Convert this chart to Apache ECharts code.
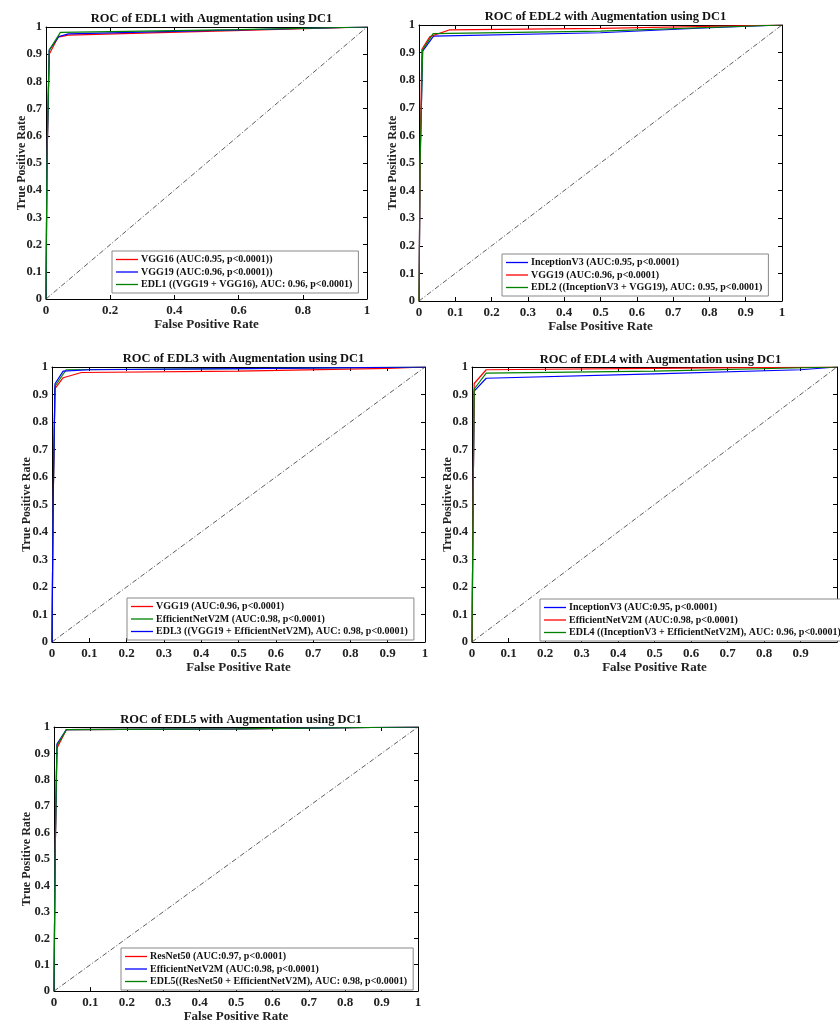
<!DOCTYPE html>
<html>
<head>
<meta charset="utf-8">
<script src="https://cdn.jsdelivr.net/npm/echarts@6/dist/echarts.min.js"></script>
<style>html,body{margin:0;padding:0;background:#fff;}#c{width:840px;height:1024px;}</style>
</head>
<body>
<div id="c"></div>
<script>
// ---------- DATA ----------
const titles = [
  'ROC of EDL1 with Augmentation using DC1',
  'ROC of EDL2 with Augmentation using DC1',
  'ROC of EDL3 with Augmentation using DC1',
  'ROC of EDL4 with Augmentation using DC1',
  'ROC of EDL5 with Augmentation using DC1'
];
const xIntervals = [0.2, 0.1, 0.1, 0.1, 0.1];
const yTickStep = 0.1;
const diagonal = [[0, 0], [1, 1]];

// Panel 1
const p1Names = ['VGG16 (AUC:0.95, p<0.0001))', 'VGG19 (AUC:0.96, p<0.0001))', 'EDL1 ((VGG19 + VGG16), AUC: 0.96, p<0.0001)'];
const p1VGG16 = [[0,0],[0.003,0.5],[0.01,0.90],[0.038,0.963],[0.069,0.97],[0.5,0.984],[1,1]];
const p1VGG19 = [[0,0],[0.003,0.5],[0.01,0.915],[0.04,0.965],[0.07,0.975],[0.5,0.987],[1,1]];
const p1EDL1  = [[0,0],[0.003,0.5],[0.01,0.915],[0.045,0.98],[0.1,0.981],[0.6,0.99],[1,1]];

// Panel 2
const p2Names = ['InceptionV3 (AUC:0.95, p<0.0001)', 'VGG19 (AUC:0.96, p<0.0001)', 'EDL2 ((InceptionV3 + VGG19), AUC: 0.95, p<0.0001)'];
const p2Inception = [[0,0],[0.003,0.5],[0.01,0.905],[0.04,0.96],[0.5,0.972],[0.8,0.99],[1,1]];
const p2VGG19     = [[0,0],[0.003,0.5],[0.008,0.912],[0.03,0.958],[0.083,0.982],[0.5,0.988],[1,1]];
const p2EDL2      = [[0,0],[0.003,0.5],[0.01,0.91],[0.039,0.969],[0.5,0.978],[1,1]];

// Panel 3
const p3Names = ['VGG19 (AUC:0.96, p<0.0001)', 'EfficientNetV2M (AUC:0.98, p<0.0001)', 'EDL3 ((VGG19 + EfficientNetV2M), AUC: 0.98, p<0.0001)'];
const p3VGG19     = [[0,0],[0.003,0.5],[0.008,0.921],[0.03,0.961],[0.079,0.98],[0.5,0.985],[0.9,0.995],[1,1]];
const p3Efficient = [[0,0],[0.003,0.5],[0.008,0.93],[0.038,0.99],[0.5,0.994],[1,1]];
const p3EDL3      = [[0,0],[0.003,0.5],[0.008,0.939],[0.03,0.985],[0.1,0.99],[0.6,0.995],[1,1]];

// Panel 4
const p4Names = ['InceptionV3 (AUC:0.95, p<0.0001)', 'EfficientNetV2M (AUC:0.98, p<0.0001)', 'EDL4 ((InceptionV3 + EfficientNetV2M), AUC: 0.96, p<0.0001)'];
const p4Inception = [[0,0],[0.003,0.5],[0.006,0.912],[0.039,0.959],[0.5,0.975],[0.9,0.99],[1,1]];
const p4Efficient = [[0,0],[0.003,0.5],[0.006,0.94],[0.039,0.99],[0.5,0.995],[1,1]];
const p4EDL4      = [[0,0],[0.003,0.5],[0.006,0.92],[0.039,0.978],[0.5,0.985],[1,1]];

// Panel 5
const p5Names = ['ResNet50 (AUC:0.97, p<0.0001)', 'EfficientNetV2M (AUC:0.98, p<0.0001)', 'EDL5((ResNet50 + EfficientNetV2M), AUC: 0.98, p<0.0001)'];
const p5ResNet    = [[0,0],[0.003,0.5],[0.008,0.92],[0.034,0.99],[0.5,0.993],[1,1]];
const p5Efficient = [[0,0],[0.003,0.5],[0.008,0.935],[0.034,0.99],[0.5,0.993],[1,1]];
const p5EDL5      = [[0,0],[0.003,0.5],[0.008,0.93],[0.034,0.99],[0.5,0.993],[1,1]];

// ---------- STYLE / LAYOUT ----------
const RED = '#ff0000', BLUE = '#0000ff', GREEN = '#008000';
const panels = [
  { grid: {left: 46, top: 27, width: 321, height: 272}, titleTop: 7, names: p1Names, data: [p1VGG16, p1VGG19, p1EDL1], colors: [RED, BLUE, GREEN], legend: {left: 112, top: 251}, xGap: 16, yGap: 18 },
  { grid: {left: 419, top: 25, width: 363, height: 276}, titleTop: 5, names: p2Names, data: [p2Inception, p2VGG19, p2EDL2], colors: [BLUE, RED, GREEN], legend: {left: 502, top: 254}, xGap: 16, yGap: 20 },
  { grid: {left: 52, top: 367, width: 373, height: 275}, titleTop: 347, names: p3Names, data: [p3VGG19, p3Efficient, p3EDL3], colors: [RED, GREEN, BLUE], legend: {left: 127, top: 598}, xGap: 16, yGap: 19 },
  { grid: {left: 472, top: 367, width: 367, height: 275}, titleTop: 348, names: p4Names, data: [p4Inception, p4Efficient, p4EDL4], colors: [BLUE, RED, GREEN], legend: {left: 540, top: 599}, xGap: 16, yGap: 18, hideLastX: true },
  { grid: {left: 54, top: 727, width: 364, height: 269}, titleTop: 708, names: p5Names, data: [p5ResNet, p5Efficient, p5EDL5], colors: [RED, BLUE, GREEN], legend: {left: 121, top: 948}, xGap: 16, yGap: 21 }
];

const FONT = 'Liberation Serif';
const option = {
  backgroundColor: '#fff',
  animation: false,
  title: [], grid: [], xAxis: [], yAxis: [], legend: [], series: []
};

const axisLine = { show: true, onZero: false, lineStyle: { color: '#000', width: 1 } };
const tickIn = { show: true, inside: true, length: 4, lineStyle: { color: '#000' } };

panels.forEach((p, i) => {
  const g = p.grid;
  option.grid.push({ left: g.left, top: g.top, width: g.width, height: g.height, containLabel: false });
  option.title.push({
    text: titles[i], left: g.left + g.width / 2, top: p.titleTop, textAlign: 'center',
    textStyle: { fontFamily: FONT, fontWeight: 'bold', fontSize: 12.5, color: '#111' }
  });
  const xi = option.xAxis.length;
  const yi = option.yAxis.length;
  option.xAxis.push({
    type: 'value', gridIndex: i, min: 0, max: 1, interval: xIntervals[i], position: 'bottom',
    name: 'False Positive Rate', nameLocation: 'middle', nameGap: p.xGap,
    nameTextStyle: { fontFamily: FONT, fontWeight: 'bold', fontSize: 13, color: '#222' },
    axisLine, axisTick: tickIn, splitLine: { show: false },
    axisLabel: { fontFamily: FONT, fontWeight: 'bold', fontSize: 13, color: '#222', margin: 5,
      formatter: v => (p.hideLastX && v === 1) ? '' : String(+v.toFixed(2)) }
  });
  option.xAxis.push({
    type: 'value', gridIndex: i, min: 0, max: 1, interval: xIntervals[i], position: 'top',
    axisLine, axisTick: tickIn, axisLabel: { show: false }, splitLine: { show: false }
  });
  option.yAxis.push({
    type: 'value', gridIndex: i, min: 0, max: 1, interval: yTickStep, position: 'left',
    name: 'True Positive Rate', nameLocation: 'middle', nameGap: p.yGap, nameMoveOverlap: false,
    nameTextStyle: { fontFamily: FONT, fontWeight: 'bold', fontSize: 12, color: '#222' },
    axisLine, axisTick: tickIn, splitLine: { show: false },
    axisLabel: { fontFamily: FONT, fontWeight: 'bold', fontSize: 12.5, color: '#222', margin: 4,
      formatter: v => String(+v.toFixed(2)) }
  });
  option.yAxis.push({
    type: 'value', gridIndex: i, min: 0, max: 1, interval: yTickStep, position: 'right',
    axisLine, axisTick: tickIn, axisLabel: { show: false }, splitLine: { show: false }
  });

  const legendNames = [];
  p.names.forEach((nm, k) => {
    const uid = 'p' + (i + 1) + '|' + nm;
    legendNames.push(uid);
    option.series.push({
      name: uid, type: 'line', xAxisIndex: xi, yAxisIndex: yi, data: p.data[k],
      symbol: 'none', lineStyle: { color: p.colors[k], width: 1.2 }, itemStyle: { color: p.colors[k] },
      z: 3 + k
    });
  });
  option.series.push({
    name: 'diag' + i, type: 'line', xAxisIndex: xi, yAxisIndex: yi, data: diagonal,
    symbol: 'none', lineStyle: { color: '#333', width: 0.8, type: [5, 2, 1, 2] }, z: 2
  });
  option.legend.push({
    data: legendNames, orient: 'vertical', left: p.legend.left, top: p.legend.top,
    icon: 'rect', itemWidth: 22, itemHeight: 1.3, itemGap: 1.5, padding: [3, 6, 3, 4],
    borderColor: '#888', borderWidth: 1, backgroundColor: '#fff', selectedMode: false,
    formatter: n => n.split('|')[1],
    textStyle: { fontFamily: FONT, fontWeight: 'bold', fontSize: 10, lineHeight: 11, color: '#111', padding: [0, 0, 0, -2] }
  });
});

const chart = echarts.init(document.getElementById('c'), null, { renderer: 'canvas' });
chart.setOption(option);
</script>
</body>
</html>
